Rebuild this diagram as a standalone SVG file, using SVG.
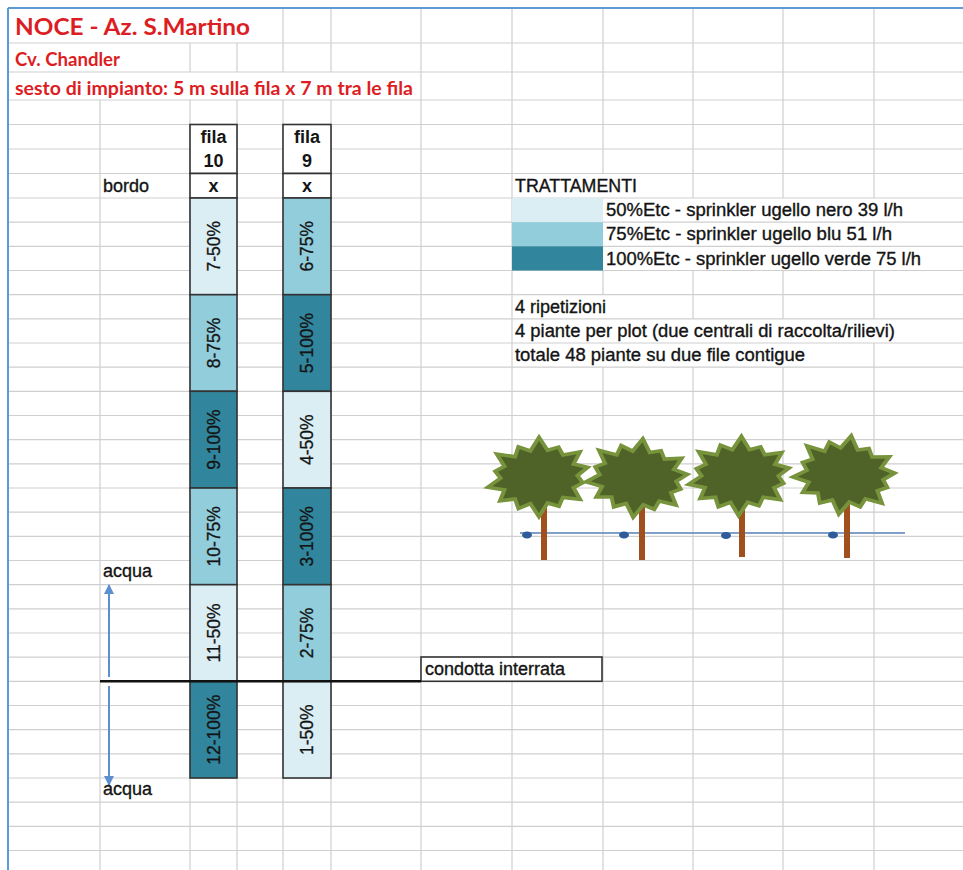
<svg xmlns="http://www.w3.org/2000/svg" xmlns:xlink="http://www.w3.org/1999/xlink" width="963" height="870" viewBox="0 0 963 870">
  <style>
    .grid line { stroke: #cfcfcf; stroke-width: 1.2; }
    .t { font-family: "Liberation Sans", Arial, sans-serif; font-size: 18px; fill: #141414; stroke: #141414; stroke-width: 0.35; }
    .c { text-anchor: middle; }
    .b { font-weight: 700; stroke-width: 0; }
    .title { font-family: Lato, "Liberation Sans", sans-serif; font-weight: 700; fill: #dc1e24; }
    .cell { stroke: #333333; stroke-width: 1.6; }
    .l50 { fill: #daeef3; }
    .l75 { fill: #92cddc; }
    .l100 { fill: #31859c; }
    .bt { font-family: "Liberation Sans", Arial, sans-serif; font-size: 17.5px; fill: #141414; stroke: #141414; stroke-width: 0.3; text-anchor: middle; }
    .crown { fill: #4f6228; stroke: #77933c; stroke-width: 4; stroke-linejoin: miter; }
    .trunk { fill: #a0501c; }
    .drip { fill: #2e5b9a; }
  </style>
  <defs>
    <path id="crown" d="M49.2,-6.9 L38.4,1.4 L43.3,9.8 L33.7,14.4 L39.4,27.8 L22.4,24.4 L17.9,33.9 L6.7,29.5 L-2.8,43.9 L-10.4,28.9 L-22.7,33.4 L-25.4,22.6 L-40.6,23.4 L-35.4,11.6 L-51.7,7.3 L-38.4,-1.6 L-43.3,-9.8 L-33.7,-14.4 L-40.5,-28.6 L-22.4,-24.4 L-18.5,-35 L-6.7,-29.5 L2.8,-43.9 L10.4,-28.9 L21.6,-31.6 L25.4,-22.6 L42.6,-24.5 L35.4,-11.6 Z"/>
    <marker id="arr" viewBox="0 0 10 10" refX="9" refY="5" markerWidth="10" markerHeight="10" markerUnits="userSpaceOnUse" orient="auto">
      <path d="M0,0 L10,5 L0,10 Z" fill="#5b8fd0"/>
    </marker>
  </defs>

  <rect x="0" y="0" width="963" height="870" fill="#ffffff"/>

  <!-- spreadsheet grid -->
  <g class="grid" id="grid">
    <line x1="8" y1="43" x2="963" y2="43"/>
    <line x1="8" y1="72" x2="963" y2="72"/>
    <line x1="8" y1="100" x2="963" y2="100"/>
    <line x1="8" y1="124.5" x2="963" y2="124.5"/>
    <line x1="8" y1="149" x2="963" y2="149"/>
    <line x1="8" y1="173.5" x2="963" y2="173.5"/>
    <line x1="8" y1="198" x2="963" y2="198"/>
    <line x1="8" y1="222.2" x2="963" y2="222.2"/>
    <line x1="8" y1="246.3" x2="963" y2="246.3"/>
    <line x1="8" y1="270.5" x2="963" y2="270.5"/>
    <line x1="8" y1="294.7" x2="963" y2="294.7"/>
    <line x1="8" y1="318.8" x2="963" y2="318.8"/>
    <line x1="8" y1="343" x2="963" y2="343"/>
    <line x1="8" y1="367.2" x2="963" y2="367.2"/>
    <line x1="8" y1="391.3" x2="963" y2="391.3"/>
    <line x1="8" y1="415.5" x2="963" y2="415.5"/>
    <line x1="8" y1="439.7" x2="963" y2="439.7"/>
    <line x1="8" y1="463.8" x2="963" y2="463.8"/>
    <line x1="8" y1="488" x2="963" y2="488"/>
    <line x1="8" y1="512.2" x2="963" y2="512.2"/>
    <line x1="8" y1="536.3" x2="963" y2="536.3"/>
    <line x1="8" y1="560.5" x2="963" y2="560.5"/>
    <line x1="8" y1="584.7" x2="963" y2="584.7"/>
    <line x1="8" y1="608.8" x2="963" y2="608.8"/>
    <line x1="8" y1="633" x2="963" y2="633"/>
    <line x1="8" y1="657.2" x2="963" y2="657.2"/>
    <line x1="8" y1="681.3" x2="963" y2="681.3"/>
    <line x1="8" y1="705.5" x2="963" y2="705.5"/>
    <line x1="8" y1="729.7" x2="963" y2="729.7"/>
    <line x1="8" y1="753.8" x2="963" y2="753.8"/>
    <line x1="8" y1="778" x2="963" y2="778"/>
    <line x1="8" y1="802.2" x2="963" y2="802.2"/>
    <line x1="8" y1="826.3" x2="963" y2="826.3"/>
    <line x1="8" y1="850.5" x2="963" y2="850.5"/>

    <line x1="100" y1="100" x2="100" y2="870"/>
    <line x1="190" y1="43" x2="190" y2="72"/>
    <line x1="190" y1="100" x2="190" y2="870"/>
    <line x1="237" y1="43" x2="237" y2="72"/>
    <line x1="237" y1="100" x2="237" y2="870"/>
    <line x1="283" y1="8" x2="283" y2="72"/>
    <line x1="283" y1="100" x2="283" y2="870"/>
    <line x1="331" y1="8" x2="331" y2="72"/>
    <line x1="331" y1="100" x2="331" y2="870"/>
    <line x1="421" y1="8" x2="421" y2="870"/>
    <line x1="512" y1="8" x2="512" y2="870"/>
    <line x1="603" y1="8" x2="603" y2="173.5"/>
    <line x1="603" y1="270.5" x2="603" y2="294.7"/>
    <line x1="603" y1="367.2" x2="603" y2="870"/>
    <line x1="693" y1="8" x2="693" y2="198"/>
    <line x1="693" y1="270.5" x2="693" y2="318.8"/>
    <line x1="693" y1="367.2" x2="693" y2="870"/>
    <line x1="783" y1="8" x2="783" y2="198"/>
    <line x1="783" y1="270.5" x2="783" y2="318.8"/>
    <line x1="783" y1="367.2" x2="783" y2="870"/>
    <line x1="874" y1="8" x2="874" y2="198"/>
    <line x1="874" y1="270.5" x2="874" y2="318.8"/>
    <line x1="874" y1="343" x2="874" y2="870"/>
  </g>

  <!-- sheet frame -->
  <g id="frame" stroke="#5b9bd5" stroke-width="2">
    <line x1="8" y1="8" x2="963" y2="8"/>
    <line x1="8" y1="8" x2="8" y2="870"/>
  </g>

  <!-- heading -->
  <g id="heading">
    <text class="title" x="15" y="35" font-size="22.5" textLength="235" lengthAdjust="spacingAndGlyphs">NOCE - Az. S.Martino</text>
    <text class="title" x="15" y="66" font-size="18" textLength="105" lengthAdjust="spacingAndGlyphs">Cv. Chandler</text>
    <text class="title" x="15" y="95" font-size="18" textLength="398" lengthAdjust="spacingAndGlyphs">sesto di impianto: 5 m sulla fila x 7 m tra le fila</text>
  </g>

  <!-- row 10 -->
  <g id="fila10">
    <rect class="cell" x="190" y="124.5" width="47" height="49" fill="#ffffff"/>
    <text class="t c b" x="213.5" y="143">fila</text>
    <text class="t c b" x="213.5" y="167">10</text>
    <rect class="cell" x="190" y="173.5" width="47" height="24.5" fill="#ffffff"/>
    <text class="t c b" x="213.5" y="192">x</text>
  </g>
  <g id="plot7"><rect class="cell l50" x="190" y="198" width="47" height="96.7"/><text class="bt" transform="translate(213.5,246.3) rotate(-90)" dy="6">7-50%</text></g>
  <g id="plot8"><rect class="cell l75" x="190" y="294.7" width="47" height="96.6"/><text class="bt" transform="translate(213.5,343) rotate(-90)" dy="6">8-75%</text></g>
  <g id="plot9"><rect class="cell l100" x="190" y="391.3" width="47" height="96.7"/><text class="bt" transform="translate(213.5,439.7) rotate(-90)" dy="6">9-100%</text></g>
  <g id="plot10"><rect class="cell l75" x="190" y="488" width="47" height="96.7"/><text class="bt" transform="translate(213.5,536.3) rotate(-90)" dy="6">10-75%</text></g>
  <g id="plot11"><rect class="cell l50" x="190" y="584.7" width="47" height="96.6"/><text class="bt" transform="translate(213.5,633) rotate(-90)" dy="6">11-50%</text></g>
  <g id="plot12"><rect class="cell l100" x="190" y="681.3" width="47" height="96.7"/><text class="bt" transform="translate(213.5,729.7) rotate(-90)" dy="6">12-100%</text></g>

  <!-- row 9 -->
  <g id="fila9">
    <rect class="cell" x="283" y="124.5" width="48" height="49" fill="#ffffff"/>
    <text class="t c b" x="307" y="143">fila</text>
    <text class="t c b" x="307" y="167">9</text>
    <rect class="cell" x="283" y="173.5" width="48" height="24.5" fill="#ffffff"/>
    <text class="t c b" x="307" y="192">x</text>
  </g>
  <g id="plot6"><rect class="cell l75" x="283" y="198" width="48" height="96.7"/><text class="bt" transform="translate(307,246.3) rotate(-90)" dy="6">6-75%</text></g>
  <g id="plot5"><rect class="cell l100" x="283" y="294.7" width="48" height="96.6"/><text class="bt" transform="translate(307,343) rotate(-90)" dy="6">5-100%</text></g>
  <g id="plot4"><rect class="cell l50" x="283" y="391.3" width="48" height="96.7"/><text class="bt" transform="translate(307,439.7) rotate(-90)" dy="6">4-50%</text></g>
  <g id="plot3"><rect class="cell l100" x="283" y="488" width="48" height="96.7"/><text class="bt" transform="translate(307,536.3) rotate(-90)" dy="6">3-100%</text></g>
  <g id="plot2"><rect class="cell l75" x="283" y="584.7" width="48" height="96.6"/><text class="bt" transform="translate(307,633) rotate(-90)" dy="6">2-75%</text></g>
  <g id="plot1"><rect class="cell l50" x="283" y="681.3" width="48" height="96.7"/><text class="bt" transform="translate(307,729.7) rotate(-90)" dy="6">1-50%</text></g>

  <g id="bordo"><text class="t" x="103" y="192">bordo</text></g>

  <!-- treatments legend -->
  <g id="legend">
    <text class="t" x="515" y="192" textLength="122" lengthAdjust="spacingAndGlyphs">TRATTAMENTI</text>
    <rect class="l50" x="512" y="198" width="91" height="24.2"/>
    <rect class="l75" x="512" y="222.2" width="91" height="24.1"/>
    <rect class="l100" x="512" y="246.3" width="91" height="24.2"/>
    <text class="t" x="606" y="216" textLength="297" lengthAdjust="spacingAndGlyphs">50%Etc - sprinkler ugello nero 39 l/h</text>
    <text class="t" x="606" y="240" textLength="286" lengthAdjust="spacingAndGlyphs">75%Etc - sprinkler ugello blu 51 l/h</text>
    <text class="t" x="606" y="264.5" textLength="315" lengthAdjust="spacingAndGlyphs">100%Etc - sprinkler ugello verde 75 l/h</text>
  </g>

  <g id="notes">
    <text class="t" x="515" y="313">4 ripetizioni</text>
    <text class="t" x="515" y="337" textLength="380" lengthAdjust="spacingAndGlyphs">4 piante per plot (due centrali di raccolta/rilievi)</text>
    <text class="t" x="515" y="361" textLength="290" lengthAdjust="spacingAndGlyphs">totale 48 piante su due file contigue</text>
  </g>

  <!-- trees on the drip line -->
  <g id="trees">
    <line x1="520" y1="533" x2="905" y2="533" stroke="#7f9fc8" stroke-width="2"/>
    <ellipse class="drip" cx="527" cy="535" rx="5" ry="3.5"/>
    <ellipse class="drip" cx="624" cy="535" rx="5" ry="3.5"/>
    <ellipse class="drip" cx="726" cy="535.5" rx="5" ry="3.5"/>
    <ellipse class="drip" cx="833" cy="535" rx="5" ry="3.5"/>
    <g id="tree1">
      <rect class="trunk" x="541" y="500" width="6" height="60"/>
      <use xlink:href="#crown" class="crown" transform="translate(539,477) rotate(-4) scale(1,0.9)"/>
    </g>
    <g id="tree2">
      <rect class="trunk" x="639" y="500" width="6" height="60"/>
      <use xlink:href="#crown" class="crown" transform="translate(638,478) rotate(3) scale(1,0.9)"/>
    </g>
    <g id="tree3">
      <rect class="trunk" x="739" y="498" width="6" height="59"/>
      <use xlink:href="#crown" class="crown" transform="translate(740,476) rotate(-2) scale(1,0.9)"/>
    </g>
    <g id="tree4">
      <rect class="trunk" x="844" y="498" width="6" height="60"/>
      <use xlink:href="#crown" class="crown" transform="translate(845,475) rotate(5) scale(1,0.9)"/>
    </g>
  </g>

  <!-- buried main pipe -->
  <g id="condotta">
    <rect x="421" y="657" width="181" height="24.3" fill="#ffffff" stroke="#333333" stroke-width="1.6"/>
    <text class="t" x="425" y="675">condotta interrata</text>
  </g>

  <!-- connectors: pipe line and water flow arrows -->
  <g id="connectors">
    <line x1="100" y1="681.3" x2="421" y2="681.3" stroke="#111111" stroke-width="2.4"/>
    <line x1="109" y1="677" x2="109" y2="585" stroke="#5b8fd0" stroke-width="2" marker-end="url(#arr)"/>
    <line x1="109" y1="686" x2="109" y2="785" stroke="#5b8fd0" stroke-width="2" marker-end="url(#arr)"/>
  </g>

  <g id="acqua">
    <text class="t" x="103" y="577">acqua</text>
    <text class="t" x="103" y="795">acqua</text>
  </g>
</svg>
